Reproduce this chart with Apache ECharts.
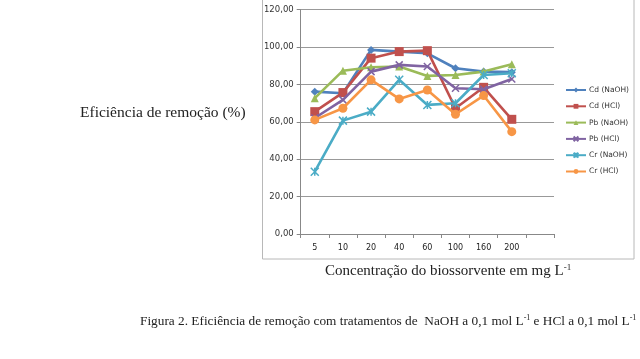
<!DOCTYPE html>
<html>
<head>
<meta charset="utf-8">
<script src="https://cdn.jsdelivr.net/npm/echarts@6/dist/echarts.min.js"></script>
<style>
html,body{margin:0;padding:0;background:#fff;}
#chart{width:640px;height:359px;}
</style>
</head>
<body>
<div id="chart"></div>
<script>
const categories = ['5','10','20','40','60','100','160','200',''];
const seriesNames = ['Cd (NaOH)','Cd (HCl)','Pb (NaOH)','Pb (HCl)','Cr (NaOH)','Cr (HCl)'];
const cdNaOH = [76.1, 75.2, 98.4, 97.5, 96.6, 88.6, 86.8, 86.5];
const cdHCl  = [65.4, 75.6, 94.0, 97.5, 98.0, 67.2, 78.4, 61.3];
const pbNaOH = [72.6, 87.3, 89.1, 89.5, 84.5, 85.0, 86.8, 90.7];
const pbHCl  = [62.0, 71.7, 86.8, 90.4, 89.5, 77.9, 77.4, 82.9];
const crNaOH = [33.3, 60.6, 65.4, 82.4, 69.0, 69.9, 85.0, 85.9];
const crHCl  = [61.0, 67.2, 82.4, 72.2, 77.0, 64.0, 74.0, 54.7];
const yTicks = [0, 20, 40, 60, 80, 100, 120];

const colors = ['#4F81BD','#C0504D','#9BBB59','#8064A2','#4BACC6','#F79646'];
const symbols = ['diamond','rect','triangle','path://M0,0L10,10M10,0L0,10','path://M0,0L10,10M10,0L0,10M5,0L5,10','circle'];
const sizes = [8,9,8,7,8,9];
const dataSets = [cdNaOH, cdHCl, pbNaOH, pbHCl, crNaOH, crHCl];

const chart = echarts.init(document.getElementById('chart'), null, {renderer:'canvas'});
const serif = '"Liberation Serif", "DejaVu Serif", serif';
const series = dataSets.map((d, i) => ({
  name: seriesNames[i],
  type: 'line',
  data: d,
  symbol: symbols[i],
  symbolSize: sizes[i],
  showAllSymbol: true,
  lineStyle: {color: colors[i], width: 2.6},
  itemStyle: {color: colors[i], borderColor: colors[i], borderWidth: (i===3||i===4)?1.5:0},
  z: 2 + i
}));

chart.setOption({
  animation: false,
  color: colors,
  grid: {left: 300.7, right: 86, top: 9.5, bottom: 125, containLabel: false},
  xAxis: {
    type: 'category',
    data: categories,
    boundaryGap: true,
    axisLine: {lineStyle: {color: '#888', width: 1}},
    axisTick: {show: true, interval: 0, length: 4, lineStyle: {color: '#888'}},
    axisLabel: {interval: 0, color: '#222', fontSize: 8, margin: 10, fontFamily: 'DejaVu Sans'}
  },
  yAxis: {
    type: 'value',
    min: 0, max: 120, interval: 20,
    axisLine: {show: true, lineStyle: {color: '#888', width: 1}},
    axisTick: {show: true, length: 4, lineStyle: {color: '#888'}},
    splitLine: {show: true, lineStyle: {color: '#999', width: 1}},
    axisLabel: {
      color: '#333', fontSize: 8.5, margin: 7, fontFamily: 'DejaVu Sans',
      formatter: v => v.toFixed(2).replace('.', ',')
    }
  },
  legend: {
    orient: 'vertical',
    left: 560, top: 81,
    itemWidth: 20, itemHeight: 6,
    itemGap: 8.3,
    textStyle: {fontSize: 7.5, color: '#333', fontFamily: 'DejaVu Sans', padding: [0,0,0,-2]},
    data: seriesNames
  },
  graphic: [
    {type: 'rect', shape: {x: 262.5, y: -1, width: 371.5, height: 260}, style: {fill: 'none', stroke: '#b8b8b8', lineWidth: 1}, silent: true, z: -1},
    {type: 'text', left: 80, top: 105, style: {text: 'Eficiência de remoção (%)', font: '15.5px ' + serif, fill: '#222'}},
    {type: 'text', left: 325, top: 263, style: {
      text: '{a|Concentração do biossorvente em mg L}{s|-1}',
      rich: {
        a: {fontSize: 15, fontFamily: serif, fill: '#222', color: '#222'},
        s: {fontSize: 9, fontFamily: serif, fill: '#222', color: '#222', verticalAlign: 'top', padding: [0,0,8,0]}
      }
    }},
    {type: 'text', left: 140, top: 314, style: {
      text: '{a|Figura 2. Eficiência de remoção com tratamentos de  NaOH a 0,1 mol L}{s|-1}{a| e HCl a 0,1 mol L}{s|-1}',
      rich: {
        a: {fontSize: 13.3, fontFamily: serif, fill: '#222', color: '#222'},
        s: {fontSize: 8, fontFamily: serif, fill: '#222', color: '#222', padding: [0,0,8,0]}
      }
    }}
  ],
  series: series
});
</script>
</body>
</html>
